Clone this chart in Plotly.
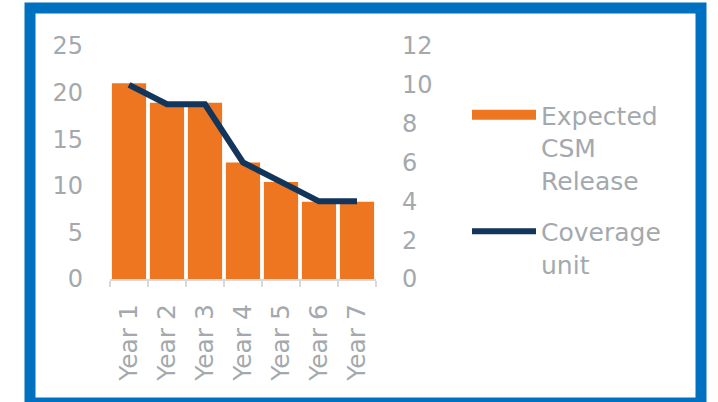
import plotly.graph_objects as go

years = ["Year 1", "Year 2", "Year 3", "Year 4", "Year 5", "Year 6", "Year 7"]
csm_release = [21.0, 18.9, 18.9, 12.5, 10.4, 8.3, 8.3]
coverage_units = [10, 9, 9, 6, 5, 4, 4]
left_ticks = [0, 5, 10, 15, 20, 25]
right_ticks = [0, 2, 4, 6, 8, 10, 12]

ORANGE = "#EE7621"
NAVY = "#12355B"
GREY = "#A3A9AD"
BLUE = "#0070C0"
FONT = "DejaVu Sans"

W, H = 718, 402
L, R, T, B = 110, 376, 46, 279  # plot area in pixels

fig = go.Figure()
fig.add_trace(go.Bar(x=years, y=csm_release, marker=dict(color=ORANGE, line=dict(width=0)),
                     showlegend=False, legendgroup="a"))
# legend-only swatch for the bars
fig.add_trace(go.Scatter(x=[None], y=[None], mode="lines", name="Expected<br>CSM<br>Release",
                         line=dict(color=ORANGE, width=11), legendgroup="a"))
fig.add_trace(go.Scatter(x=years, y=coverage_units, yaxis="y2", mode="lines",
                         name="Coverage<br>unit", line=dict(color=NAVY, width=6),
                         legendgroup="b"))

def px(x):
    return (x - L) / (R - L)

def py(y):
    return (B - y) / (B - T)

fig.add_shape(type="rect", xref="paper", yref="paper",
              x0=px(30), x1=px(701), y0=py(403), y1=py(8),
              line=dict(color=BLUE, width=11), fillcolor="rgba(0,0,0,0)", layer="above")

fig.update_layout(
    width=W, height=H,
    margin=dict(l=L, r=W - R, t=T, b=H - B, pad=0),
    paper_bgcolor="white", plot_bgcolor="white",
    font=dict(family=FONT, size=25, color=GREY),
    bargap=0.1,
    xaxis=dict(showline=True, linecolor="#D9D9D9", linewidth=2, ticks="outside",
               tickson="boundaries", ticklen=6, tickcolor="#D9D9D9", tickwidth=2,
               tickangle=-90, tickfont=dict(size=25, color=GREY), showgrid=False,
               ticklabelstandoff=13),
    yaxis=dict(range=[0, 25], tickvals=left_ticks, showgrid=False, zeroline=False,
               showline=False, ticks="", tickfont=dict(size=24, color=GREY),
               ticklabelstandoff=26),
    yaxis2=dict(range=[0, 12], tickvals=right_ticks, overlaying="y", side="right",
                showgrid=False, zeroline=False, showline=False, ticks="",
                tickfont=dict(size=24, color=GREY), ticklabelstandoff=25),
    legend=dict(x=px(467), xanchor="left", y=py(92), yanchor="top",
                valign="top", itemwidth=64, tracegroupgap=16, traceorder="grouped",
                font=dict(size=25, color=GREY), bgcolor="rgba(0,0,0,0)"),
)

fig.write_html("out.html")
